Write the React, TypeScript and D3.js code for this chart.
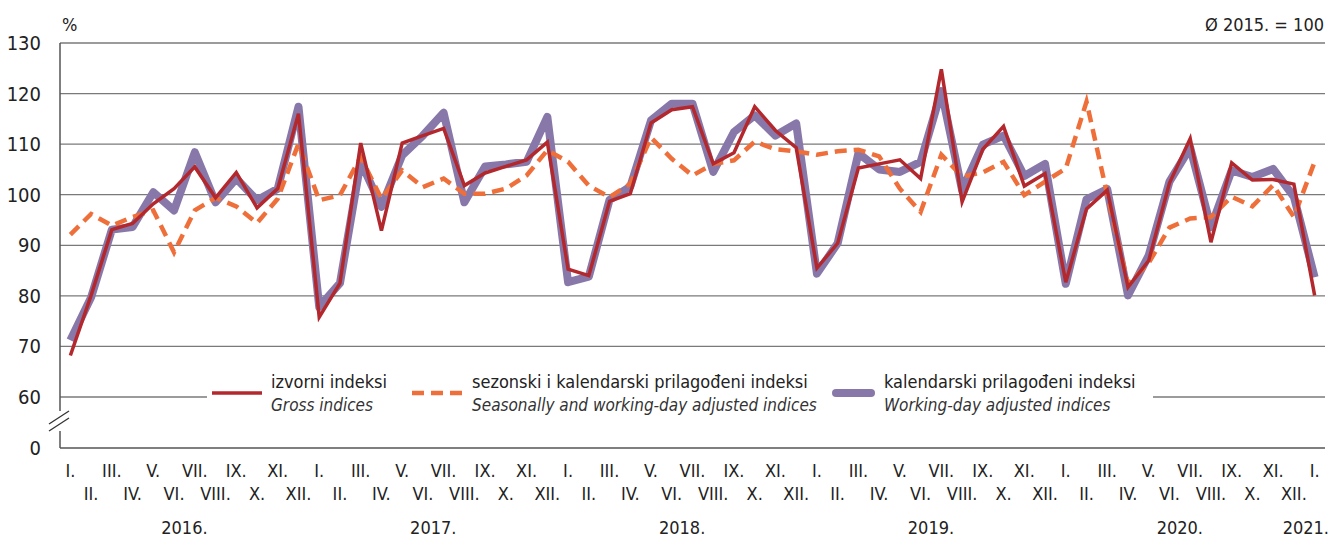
import React from 'react';
import * as d3 from 'd3';

const months = ['I.', 'II.', 'III.', 'IV.', 'V.', 'VI.', 'VII.', 'VIII.', 'IX.', 'X.', 'XI.', 'XII.'];
const years = ['2016.', '2017.', '2018.', '2019.', '2020.'];
const lastLabel = '2021.';

// Jan 2016 .. Jan 2021
const gross = [68.2, 80.1, 93.1, 94.3, 98.2, 101.2, 105.5, 99.4, 104.4, 97.4, 101.2, 116.0,
  75.8, 82.5, 110.2, 92.9, 110.2, 111.7, 113.1, 101.8, 104.3, 105.6, 106.9, 110.4,
  85.3, 84.0, 98.7, 100.2, 114.2, 116.8, 117.4, 106.1, 108.3, 117.4, 112.7, 109.3,
  85.5, 90.4, 105.3, 106.1, 106.9, 103.2, 124.8, 98.6, 109.0, 113.5, 101.7, 104.2,
  82.7, 97.2, 100.9, 81.7, 87.0, 102.3, 111.1, 90.6, 106.3, 102.9, 103.0, 102.1,
  80.1];
const seasonal = [92.1, 96.2, 93.9, 95.6, 96.9, 88.6, 96.9, 99.4, 97.7, 94.4, 99.2, 110.1,
  98.9, 99.9, 107.5, 99.2, 104.8, 101.5, 103.2, 100.2, 100.2, 101.2, 103.8, 108.8,
  106.5, 101.8, 99.5, 102.2, 111.3, 107.1, 103.8, 106.1, 106.8, 110.5, 109.0, 108.6,
  107.9, 108.6, 108.9, 107.6, 101.2, 96.6, 107.9, 103.6, 104.4, 106.5, 99.9, 102.6,
  105.2, 118.4, 100.0, 82.3, 86.5, 93.5, 95.3, 95.6, 99.6, 97.7, 101.9, 95.6,
  106.5];
const working = [71.2, 79.7, 93.1, 93.6, 100.5, 96.9, 108.4, 98.5, 103.2, 98.9, 101.2, 117.4,
  77.8, 82.5, 106.5, 97.6, 107.8, 111.7, 116.2, 98.5, 105.6, 106.0, 106.5, 115.4,
  82.7, 83.8, 99.0, 101.6, 114.7, 118.0, 118.0, 104.5, 112.4, 115.7, 111.7, 114.1,
  84.4, 90.4, 108.2, 105.0, 104.5, 106.5, 120.5, 100.9, 109.9, 111.7, 103.7, 106.1,
  82.4, 99.1, 101.1, 80.1, 88.0, 102.6, 109.3, 93.6, 104.8, 103.5, 105.1, 99.6,
  83.7];
const yTicks = [60, 70, 80, 90, 100, 110, 120, 130];

const RED = '#b3282d';
const ORANGE = '#ef6f3a';
const PURPLE = '#8878aa';
const FONT = '"Liberation Sans Narrow", "DejaVu Sans Condensed", "Arial Narrow", sans-serif';

const App = () => {
  const W = 1335;
  const H = 538;
  const left = 60;
  const right = 1325;
  const zeroY = 448;

  const idx = d3.range(gross.length);
  const x = d3.scaleBand<number>().domain(idx).range([left, right]);
  const cx = (i: number) => (x(i) as number) + x.bandwidth() / 2;
  const y = d3.scaleLinear().domain([60, 130]).range([397, 43]);

  const line = d3.line<number>().x((d, i) => cx(i)).y(d => y(d));

  return (
    <svg width={W} height={H} style={{position: 'absolute', left: 0, top: 0, background: '#fff'}}
      fontFamily={FONT}>
      {/* gridlines */}
      {yTicks.map(t => (
        <line key={t} x1={left} x2={right} y1={y(t)} y2={y(t)} stroke="#7a7a7a" strokeWidth={1.3} />
      ))}
      <line x1={left} x2={right} y1={zeroY} y2={zeroY} stroke="#555" strokeWidth={1.5} />
      {/* y axis with break */}
      <line x1={left} x2={left} y1={y(130)} y2={411} stroke="#555" strokeWidth={1.5} />
      <line x1={left} x2={left} y1={431} y2={zeroY} stroke="#555" strokeWidth={1.5} />
      <line x1={49} y1={431} x2={69} y2={418} stroke="#333" strokeWidth={1.3} />
      <line x1={49} y1={424} x2={69} y2={411} stroke="#333" strokeWidth={1.3} />

      {/* y labels */}
      {yTicks.map(t => (
        <text key={t} x={41} y={y(t)} dy="0.35em" textAnchor="end" fontSize={20} fill="#222">{t}</text>
      ))}
      <text x={41} y={zeroY} dy="0.35em" textAnchor="end" fontSize={20} fill="#222">0</text>
      <text x={62} y={25} dy="0.35em" fontSize={18} fill="#222">%</text>
      <text x={1324} y={25} dy="0.35em" textAnchor="end" fontSize={18} fill="#222">Ø 2015. = 100</text>

      {/* legend */}
      <rect x={207} y={365} width={946} height={60} fill="#fff" />
      <line x1={212} x2={262} y1={393} y2={393} stroke={RED} strokeWidth={3.5} />
      <text x={271} y={382} dy="0.35em" fontSize={18} fill="#222">izvorni indeksi</text>
      <text x={271} y={405} dy="0.35em" fontSize={17} fontStyle="italic" fill="#333">Gross indices</text>
      <line x1={412} x2={462} y1={393} y2={393} stroke={ORANGE} strokeWidth={4.5} strokeDasharray="12 7" />
      <text x={472} y={382} dy="0.35em" fontSize={18} fill="#222">sezonski i kalendarski prilagođeni indeksi</text>
      <text x={472} y={405} dy="0.35em" fontSize={17} fontStyle="italic" fill="#333">Seasonally and working-day adjusted indices</text>
      <line x1={836} x2={871} y1={393} y2={393} stroke={PURPLE} strokeWidth={8} strokeLinecap="round" />
      <text x={884} y={382} dy="0.35em" fontSize={18} fill="#222">kalendarski prilagođeni indeksi</text>
      <text x={884} y={405} dy="0.35em" fontSize={17} fontStyle="italic" fill="#333">Working-day adjusted indices</text>

      {/* series */}
      <path d={line(working) || ''} fill="none" stroke={PURPLE} strokeWidth={8} strokeLinejoin="round" />
      <path d={line(seasonal) || ''} fill="none" stroke={ORANGE} strokeWidth={4.5} strokeDasharray="12 7" />
      <path d={line(gross) || ''} fill="none" stroke={RED} strokeWidth={3.5} strokeLinejoin="miter" />

      {/* x labels */}
      {idx.map(i => (
        <text key={i} x={cx(i)} y={i % 2 === 0 ? 471 : 494} dy="0.35em" textAnchor="middle"
          fontSize={18} fill="#222">{months[i % 12]}</text>
      ))}
      {years.map((yr, k) => (
        <text key={yr} x={(cx(k * 12 + 5) + cx(k * 12 + 6)) / 2} y={528} dy="0.35em" textAnchor="middle"
          fontSize={18} fill="#222">{yr}</text>
      ))}
      <text x={1329} y={528} dy="0.35em" textAnchor="end" fontSize={18} fill="#222">{lastLabel}</text>
    </svg>
  );
};

export default App;
